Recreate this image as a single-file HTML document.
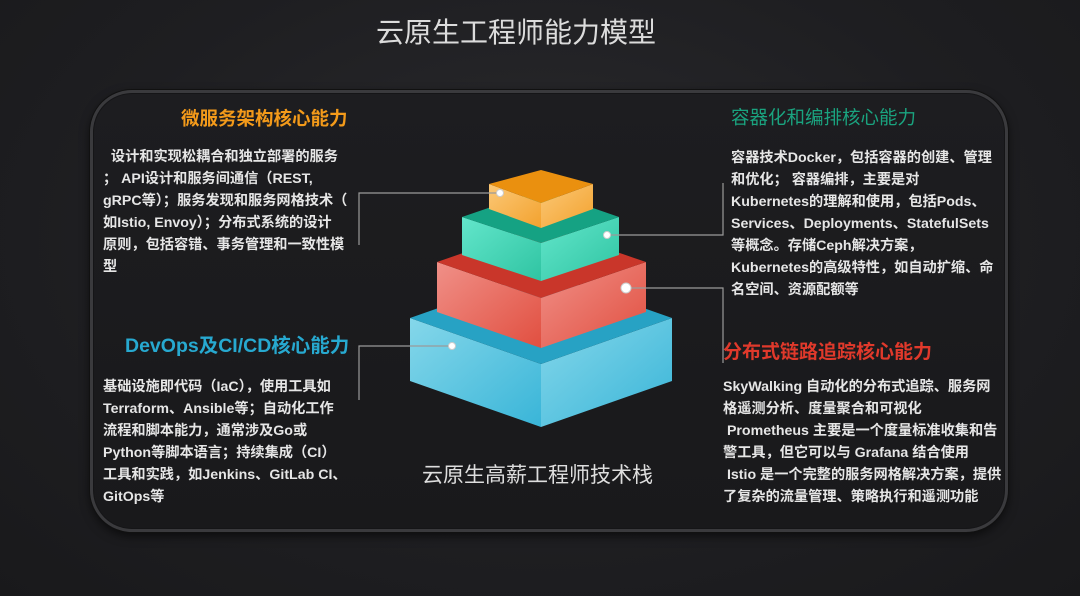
<!DOCTYPE html>
<html><head><meta charset="utf-8"><style>
html,body{margin:0;padding:0}
body{width:1080px;height:596px;overflow:hidden;background:radial-gradient(ellipse at 50% 40%,#2a2a2d 0%,#1e1e21 60%,#19191b 100%);position:relative;font-family:"Liberation Sans","Noto Sans CJK SC",sans-serif;}
.t{position:absolute;white-space:nowrap}
.title{left:0;width:1032px;text-align:center;top:11px;font-size:28px;color:#dcdcdc}
.frame{position:absolute;left:90px;top:90px;width:912px;height:436px;border-radius:42px;border:3px solid #3a3a3d;box-shadow:0 0 0 1px #111,inset 0 0 0 1px #151517,0 4px 10px rgba(0,0,0,.6);background:linear-gradient(180deg,#1d1d20,#19191b)}
.h{font-size:18px;font-weight:bold}
.b{font-size:14.2px;font-weight:bold;color:#e6e6e6;line-height:22px}
</style></head><body>
<div class="t title">云原生工程师能力模型</div>
<div class="frame"></div>
<svg width="1080" height="596" style="position:absolute;left:0;top:0">
<defs>
<linearGradient id="ol" x1="0" y1="0" x2="1" y2="1"><stop offset="0" stop-color="#fbc877"/><stop offset="1" stop-color="#f3a22e"/></linearGradient>
<linearGradient id="gl" x1="0" y1="0" x2="1" y2="1"><stop offset="0" stop-color="#63e6cb"/><stop offset="1" stop-color="#2fc4a2"/></linearGradient>
<linearGradient id="rl" x1="0" y1="0" x2="1" y2="1"><stop offset="0" stop-color="#f09088"/><stop offset="1" stop-color="#e14f40"/></linearGradient>
<linearGradient id="bl" x1="0" y1="0" x2="1" y2="1"><stop offset="0" stop-color="#85d7ea"/><stop offset="1" stop-color="#39b5d8"/></linearGradient>
</defs>
<g stroke="none">
<polygon points="410,318 541,364 541,427 410,381" fill="url(#bl)"/>
<polygon points="541,364 672,318 672,381 541,427" fill="url(#bl)"/>
<polygon points="410,318 541,272 672,318 541,364" fill="#27a2c4"/>
<polygon points="437,262 541,298 541,348 437,312" fill="url(#rl)"/>
<polygon points="541,298 646,262 646,312 541,348" fill="url(#rl)"/>
<polygon points="437,262 541,226 646,262 541,298" fill="#c9362a"/>
<polygon points="462,217 541,243 541,281 462,255" fill="url(#gl)"/>
<polygon points="541,243 619,217 619,255 541,281" fill="url(#gl)"/>
<polygon points="462,217 541,190 619,217 541,243" fill="#15a283"/>
<polygon points="489,184 541,203 541,228 489,209" fill="url(#ol)"/>
<polygon points="541,203 593,184 593,209 541,228" fill="url(#ol)"/>
<polygon points="489,184 541,170 593,184 541,203" fill="#ea900f"/>
</g>
<g stroke="#9a9a9a" stroke-width="1.2" fill="none">
<polyline points="500,193 359,193 359,245"/>
<polyline points="607,235 723,235 723,183"/>
<polyline points="626,288 723,288 723,363"/>
<polyline points="452,346 359,346 359,400"/>
</g>
<g fill="#fff" stroke="#ccc" stroke-width="1">
<circle cx="500" cy="193" r="3.5"/>
<circle cx="607" cy="235" r="3.5"/>
<circle cx="626" cy="288" r="5"/>
<circle cx="452" cy="346" r="3.5"/>
</g>
</svg>
<div class="t h" style="left:181px;top:105px;color:#f39a1a;font-size:18.5px">微服务架构核心能力</div>
<div class="t b" style="left:103px;top:146px">&nbsp;&nbsp;设计和实现松耦合和独立部署的服务<br>； API设计和服务间通信（REST,<br>gRPC等）；服务发现和服务网格技术（<br>如Istio, Envoy）；分布式系统的设计<br>原则，包括容错、事务管理和一致性模<br>型</div>
<div class="t h" style="left:731px;top:104px;color:#1aa37f;font-weight:normal;font-size:18.5px">容器化和编排核心能力</div>
<div class="t b" style="left:731px;top:147px">容器技术Docker，包括容器的创建、管理<br>和优化； 容器编排，主要是对<br>Kubernetes的理解和使用，包括Pods、<br>Services、Deployments、StatefulSets<br>等概念。存储Ceph解决方案，<br>Kubernetes的高级特性，如自动扩缩、命<br>名空间、资源配额等</div>
<div class="t h" style="left:125px;top:329px;color:#27a9d0;font-size:19.5px">DevOps及CI/CD核心能力</div>
<div class="t b" style="left:103px;top:376px">基础设施即代码（IaC），使用工具如<br>Terraform、Ansible等；自动化工作<br>流程和脚本能力，通常涉及Go或<br>Python等脚本语言；持续集成（CI）<br>工具和实践，如Jenkins、GitLab CI、<br>GitOps等</div>
<div class="t h" style="left:723px;top:337px;color:#e0392b;font-size:19px">分布式链路追踪核心能力</div>
<div class="t b" style="left:723px;top:376px">SkyWalking 自动化的分布式追踪、服务网<br>格遥测分析、度量聚合和可视化<br>&nbsp;Prometheus 主要是一个度量标准收集和告<br>警工具，但它可以与 Grafana 结合使用<br>&nbsp;Istio 是一个完整的服务网格解决方案，提供<br>了复杂的流量管理、策略执行和遥测功能</div>
<div class="t" style="left:422px;top:459px;font-size:21px;color:#dedede">云原生高薪工程师技术栈</div>
</body></html>
